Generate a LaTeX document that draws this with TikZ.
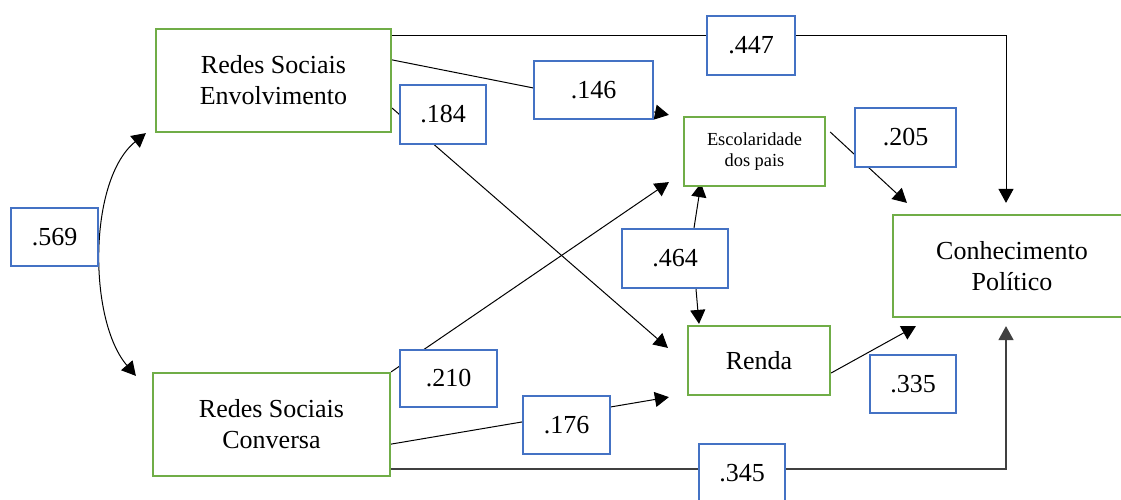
\documentclass[tikz,border=0pt]{standalone}
\usepackage{fontspec}
\setmainfont{Liberation Serif}
\usetikzlibrary{arrows.meta,backgrounds}
\definecolor{vargreen}{RGB}{112,173,71}
\definecolor{coefblue}{RGB}{68,114,196}

\begin{document}
\begin{tikzpicture}[x=1pt,y=-1pt,
  var/.style={draw=vargreen, line width=2.2pt, fill=white, align=center,
    inner sep=0pt, font=\fontsize{26}{31}\selectfont},
  smallvar/.style={var, font=\fontsize{18.4}{21}\selectfont},
  coef/.style={draw=coefblue, line width=2pt, fill=white, inner sep=0pt,
    font=\fontsize{26}{31}\selectfont},
  tip/.style={-{Triangle[length=14pt,width=15pt]}},
  conn/.style={line width=1pt, black, tip},
  longconn/.style={line width=1.5pt, black!75, tip}
]
\useasboundingbox (0,0) rectangle (1121,500);

% latent and observed variables
\node[var, minimum width=235pt, minimum height=103pt] (rse) at (273.5,80.5) {Redes Sociais\\Envolvimento};
\node[var, minimum width=237pt, minimum height=103pt] (rsc) at (271.5,424.5) {Redes Sociais\\Conversa};
\node[smallvar, minimum width=141pt, minimum height=69pt] (esc) at (754.5,151.5) {Escolaridade\\dos pais};
\node[var, minimum width=142pt, minimum height=69pt] (renda) at (759,360.5) {Renda};
\node[var, minimum width=238pt, minimum height=102pt] (con) at (1012,266) {Conhecimento\\Político};

% path coefficients
\node[coef, minimum width=87pt, minimum height=58pt] (c569) at (54.5,237) {.569};
\node[coef, minimum width=86pt, minimum height=59pt] (c184) at (443,114.5) {.184};
\node[coef, minimum width=119pt, minimum height=58pt] (c146) at (593.5,90) {.146};
\node[coef, minimum width=88pt, minimum height=59pt] (c447) at (751,45.5) {.447};
\node[coef, minimum width=101pt, minimum height=59pt] (c205) at (905.5,137.5) {.205};
\node[coef, minimum width=106pt, minimum height=59pt] (c464) at (675,258.5) {.464};
\node[coef, minimum width=97pt, minimum height=57pt] (c210) at (448.5,378.5) {.210};
\node[coef, minimum width=87pt, minimum height=58pt] (c176) at (566.5,425) {.176};
\node[coef, minimum width=86pt, minimum height=58pt] (c335) at (913,384) {.335};
\node[coef, minimum width=86pt, minimum height=59pt] (c345) at (742,473.5) {.345};

\begin{scope}[on background layer]
  % correlation between the two network variables
  \draw[line width=1pt, {Triangle[length=14pt,width=15pt]}-{Triangle[length=14pt,width=15pt]}]
    ([xshift=-16pt,yshift=-4pt]rsc.north west) .. controls (88,320) and (88,180) .. ([xshift=-9pt]rse.south west);
  % direct paths
  \draw[conn] ([yshift=-8pt]rse.north east) -| ([xshift=-6pt,yshift=11pt]con.north);
  \draw[conn] ([yshift=-32pt]rse.north east) -- ([xshift=-14pt,yshift=1pt]esc.north west);
  \draw[conn] ([yshift=25pt]rse.south east) -- ([xshift=-19pt,yshift=-23pt]renda.north west);
  \draw[conn] (rsc.north east) -- ([xshift=-14pt,yshift=5pt]esc.south west);
  \draw[conn] ([yshift=33pt]rsc.south east) -- ([xshift=-18pt,yshift=-1pt]renda.south west);
  \draw[longconn] ([yshift=8pt]rsc.south east) -| ([xshift=-6pt,yshift=-8pt]con.south);
  \draw[conn] ([xshift=4pt,yshift=-16pt]esc.north east) -- ([xshift=15pt,yshift=11pt]con.north west);
  \draw[conn] ([yshift=-12.5pt]renda.east) -- ([xshift=24pt,yshift=-8pt]con.south west);
  % covariance between parents' schooling and income
  \draw[conn] ([xshift=19pt]c464.north) -- ([xshift=-53.5pt,yshift=4pt]esc.south);
  \draw[conn] ([xshift=21pt]c464.south) -- ([xshift=-60pt,yshift=1pt]renda.north);
\end{scope}
\end{tikzpicture}
\end{document}
